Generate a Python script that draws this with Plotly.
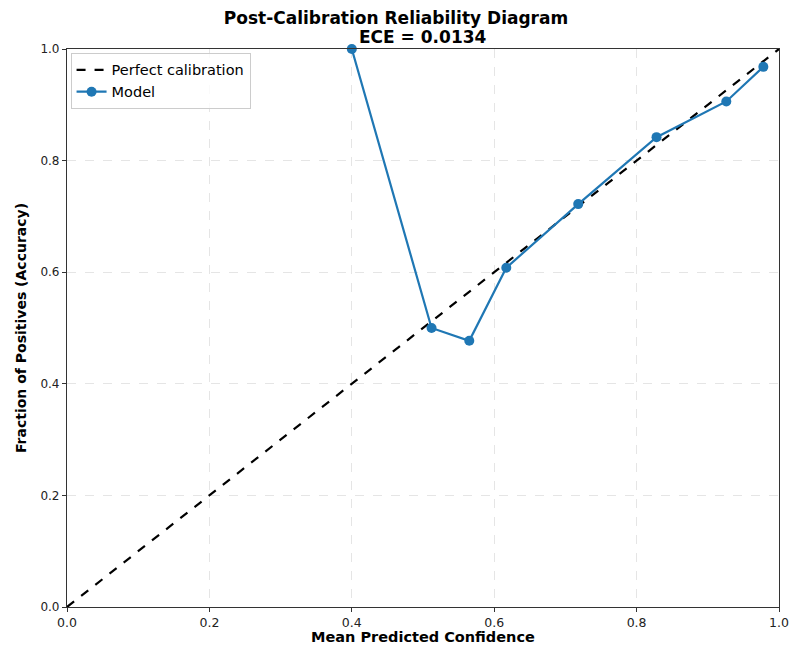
import plotly.graph_objects as go

conf = [0.400, 0.512, 0.565, 0.617, 0.718, 0.828, 0.926, 0.978]
acc = [1.000, 0.500, 0.477, 0.608, 0.722, 0.842, 0.906, 0.968]
perfect = [0.0, 1.0]
ticks = [0.0, 0.2, 0.4, 0.6, 0.8, 1.0]
tick_text = ["0.0", "0.2", "0.4", "0.6", "0.8", "1.0"]
title_line1 = "Post-Calibration Reliability Diagram"
title_line2 = "ECE = 0.0134"
x_title = "Mean Predicted Confidence"
y_title = "Fraction of Positives (Accuracy)"

fig = go.Figure()
fig.add_trace(go.Scatter(x=perfect, y=perfect, mode="lines", name="Perfect calibration",
                         line=dict(color="black", width=2.2, dash="dash")))
fig.add_trace(go.Scatter(x=conf, y=acc, mode="lines+markers", name="Model",
                         line=dict(color="#1f77b4", width=2.2),
                         marker=dict(size=10, color="#1f77b4"),
                         cliponaxis=False))

axis_common = dict(range=[0, 1], tickvals=ticks, ticktext=tick_text, automargin=False,
                   showgrid=True, gridcolor="rgba(0,0,0,0.1)", griddash="dash", gridwidth=1,
                   zeroline=False, showline=True, linecolor="#333", linewidth=1.2, mirror=True,
                   ticks="outside", ticklen=4, tickcolor="#333")

fig.update_layout(
    width=792, height=645,
    margin=dict(l=67, r=13, t=49, b=38),
    paper_bgcolor="white", plot_bgcolor="white",
    title=dict(text="<b>" + title_line1 + "</b>",
               x=0.5, xanchor="center", y=1 - 18 / 645, yanchor="middle",
               font=dict(family="DejaVu Sans", size=17, color="black")),
    xaxis=dict(**axis_common, tickfont=dict(family="DejaVu Sans", size=12.5, color="#222")),
    yaxis=dict(**axis_common, tickfont=dict(family="DejaVu Sans", size=12, color="#222"),
               title=dict(text="<b>" + y_title + "</b>", standoff=10,
                          font=dict(family="DejaVu Sans", size=14, color="black"))),
    legend=dict(x=0.005, y=0.993, xanchor="left", yanchor="top",
                bgcolor="rgba(255,255,255,0.8)", bordercolor="#ccc", borderwidth=1,
                font=dict(family="DejaVu Sans", size=14.5, color="black")),
    showlegend=True,
)
fig.add_annotation(text="<b>" + title_line2 + "</b>", xref="paper", yref="paper",
                   x=0.5, y=(607 - 37) / 558, xanchor="center", yanchor="middle",
                   showarrow=False, font=dict(family="DejaVu Sans", size=17, color="black"))
fig.add_annotation(text="<b>" + x_title + "</b>", xref="paper", yref="paper",
                   x=0.5, y=(607 - 637) / 558, xanchor="center", yanchor="middle",
                   showarrow=False, borderpad=0,
                   font=dict(family="DejaVu Sans", size=14.5, color="black"))

fig.write_html("out.html", post_script="document.body.style.margin='0';",
               config={"displayModeBar": False})
